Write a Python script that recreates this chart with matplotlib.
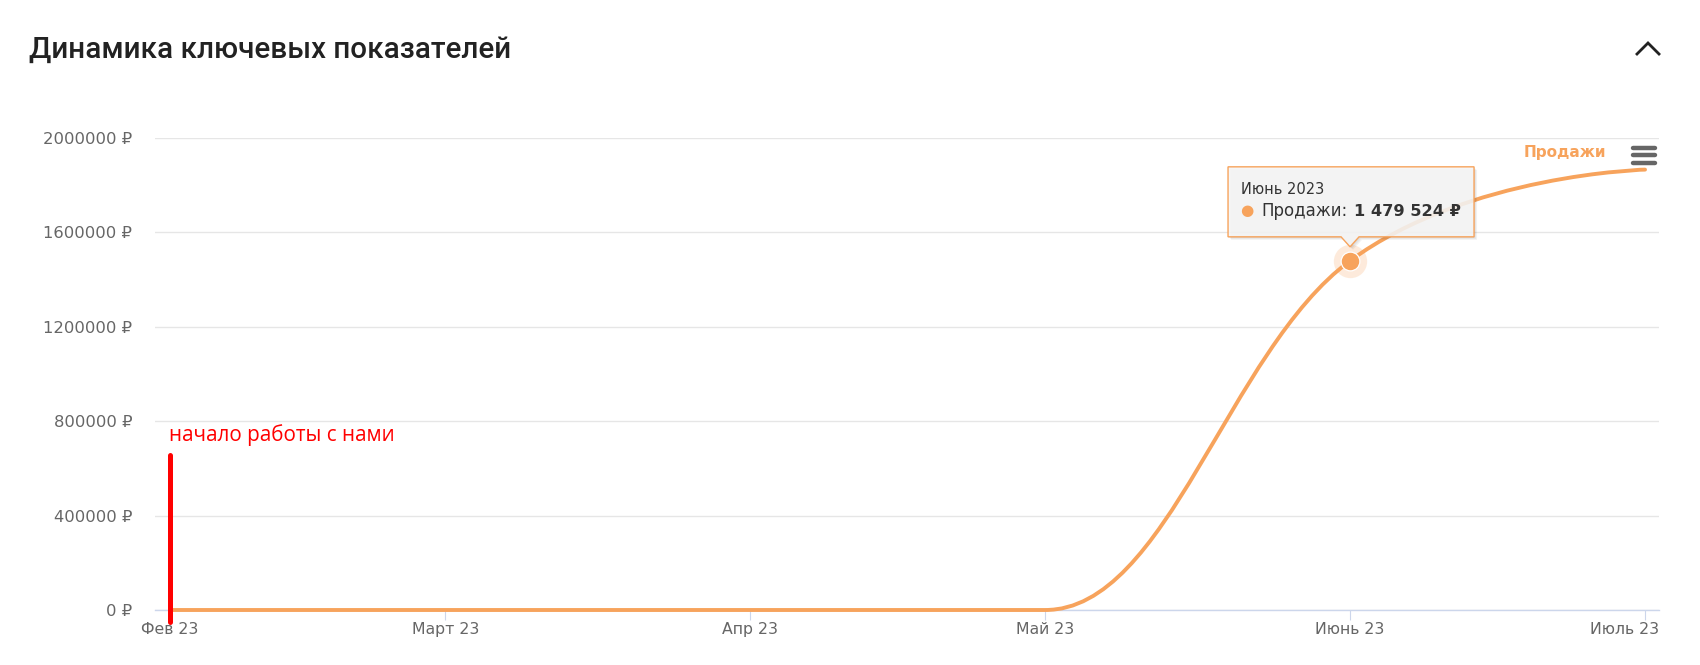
import datetime as dt

import matplotlib
matplotlib.use("Agg")
import matplotlib.pyplot as plt
import matplotlib.dates as mdates
from matplotlib.path import Path
from matplotlib.patches import PathPatch, Polygon
from matplotlib.lines import Line2D
from matplotlib.transforms import IdentityTransform, ScaledTranslation

# data
months = ["2023-02-01", "2023-03-01", "2023-04-01", "2023-05-01", "2023-06-01", "2023-07-01"]
sales = [0, 0, 0, 0, 1479524, 1866000]
month_labels = ["Фев 23", "Март 23", "Апр 23", "Май 23", "Июнь 23", "Июль 23"]
y_ticks = [0, 400000, 800000, 1200000, 1600000, 2000000]
series_name = "Продажи"
tooltip_index = 4
tooltip_header = "Июнь 2023"
start_index = 0
start_range = [-50000, 656000]
start_label = "начало работы с нами"
title = "Динамика ключевых показателей"

ORANGE = "#f7a35c"
W, H = 1700, 665


def fx(px):
    return px / W


def fy(py):
    return 1 - py / H


def spline_path(xs, ys):
    # highcharts style spline (smoothing 1.5)
    n = len(xs)
    left = [None] * n
    right = [None] * n
    for i in range(1, n - 1):
        x, y = xs[i], ys[i]
        lx, ly = xs[i - 1], ys[i - 1]
        nx, ny = xs[i + 1], ys[i + 1]
        lcx, lcy = (1.5 * x + lx) / 2.5, (1.5 * y + ly) / 2.5
        rcx, rcy = (1.5 * x + nx) / 2.5, (1.5 * y + ny) / 2.5
        if rcx != lcx:
            corr = (rcy - lcy) * (rcx - x) / (rcx - lcx) + y - rcy
            lcy += corr
            rcy += corr
        if lcy > ly and lcy > y:
            lcy = max(ly, y)
            rcy = 2 * y - lcy
        elif lcy < ly and lcy < y:
            lcy = min(ly, y)
            rcy = 2 * y - lcy
        if rcy > ny and rcy > y:
            rcy = max(ny, y)
            lcy = 2 * y - rcy
        elif rcy < ny and rcy < y:
            rcy = min(ny, y)
            lcy = 2 * y - rcy
        left[i] = (lcx, lcy)
        right[i] = (rcx, rcy)
    verts = [(xs[0], ys[0])]
    codes = [Path.MOVETO]
    for i in range(1, n):
        c1 = right[i - 1] or (xs[i - 1], ys[i - 1])
        c2 = left[i] or (xs[i], ys[i])
        verts += [c1, c2, (xs[i], ys[i])]
        codes += [Path.CURVE4] * 3
    return Path(verts, codes)


xs = [mdates.date2num(dt.date.fromisoformat(m)) for m in months]

fig = plt.figure(figsize=(W / 100, H / 100), dpi=100)
ax = fig.add_axes([fx(155), fy(610), fx(1659) - fx(155), fy(138) - fy(610)])

# axes style
for s in ["top", "right", "left"]:
    ax.spines[s].set_visible(False)
ax.spines["bottom"].set_color("#ccd6eb")
ax.spines["bottom"].set_linewidth(1.0)
ax.set_ylim(0, 2000000)
ax.set_xlim(xs[0] - 1.53, xs[-1] + 1.42)
ax.set_yticks(y_ticks)
ax.set_yticklabels([f"{v} ₽" for v in y_ticks])
ax.set_xticks(xs)
ax.set_xticklabels(month_labels)
ax.tick_params(axis="y", length=0, pad=16.5, labelsize=11.8, labelcolor="#666666")
ax.tick_params(axis="x", length=7.2, width=0.8, color="#ccd6eb", pad=1.5,
               labelsize=11.3, labelcolor="#666666")
# last label kept inside the chart like highcharts does
last = ax.get_xticklabels()[-1]
last.set_horizontalalignment("right")
last.set_transform(last.get_transform() + ScaledTranslation(14 / 100, 0, fig.dpi_scale_trans))
ax.grid(axis="y", color="#e6e6e6", linewidth=1.0)
ax.set_axisbelow(True)

# series line
path = spline_path(xs, sales)
ax.add_patch(PathPatch(path, facecolor="none", edgecolor=ORANGE, lw=2.8,
                       capstyle="round", zorder=3, clip_on=False))

# hovered point with halo
ax.plot(xs[tooltip_index], sales[tooltip_index], "o", ms=24, color=ORANGE,
        alpha=0.22, mew=0, zorder=4)
ax.plot(xs[tooltip_index], sales[tooltip_index], "o", ms=13.5, color=ORANGE,
        mec="white", mew=0.9, zorder=5)

# start marker
ax.plot([xs[start_index]] * 2, start_range, color="#ff0000", lw=3.6,
        solid_capstyle="round", zorder=6, clip_on=False)
ax.annotate(start_label, (xs[start_index], start_range[1]), xytext=(-1, 14),
            textcoords="offset pixels", color="#ff0000", fontsize=14.9,
            family="Open Sans", va="baseline", ha="left")

# title and icons
fig.text(fx(29), fy(58), title, fontsize=21.3, family="Roboto", fontweight="medium",
         color="#222222", va="baseline", ha="left")
fig.add_artist(Line2D([fx(1637), fx(1648), fx(1659)], [fy(54), fy(43), fy(54)],
                      color="#222222", lw=2.0, solid_joinstyle="miter"))
for yy in [147.5, 155, 162.5]:
    fig.add_artist(Line2D([fx(1633), fx(1655)], [fy(yy), fy(yy)], color="#666666",
                          lw=3.2, solid_capstyle="round"))
fig.text(fx(1606), fy(152.5), series_name, fontsize=11, fontweight="bold",
         color=ORANGE, ha="right", va="center", family="DejaVu Sans")

# tooltip
fig.canvas.draw()
px, py = ax.transData.transform((xs[tooltip_index], sales[tooltip_index]))
L, R, B, T = px - 122, px + 124, py + 24, py + 94
outline = [(L, B), (px - 9, B), (px, py + 14), (px + 9, B), (R, B), (R, T), (L, T)]
idt = IdentityTransform()
for k in (1, 2, 3):
    fig.add_artist(Polygon([(a + k, b - k) for a, b in outline], closed=True,
                           facecolor="black", edgecolor="none", alpha=0.05,
                           transform=idt, zorder=7))
fig.add_artist(Polygon(outline, closed=True, facecolor=(0.97, 0.97, 0.97, 0.88),
                       edgecolor=ORANGE, lw=1.0, transform=idt, zorder=8))
fig.text(px - 109, py + 67, tooltip_header, fontsize=10.5, color="#333333",
         transform=idt, va="baseline", ha="left", zorder=9)
fig.text(px - 103, py + 50, "●", fontsize=11, color=ORANGE, transform=idt,
         va="center", ha="center", zorder=9)
lbl = fig.text(px - 89, py + 45, series_name + ":", fontsize=12, color="#333333",
               transform=idt, va="baseline", ha="left", zorder=9)
x_end = lbl.get_window_extent(fig.canvas.get_renderer()).x1
fig.text(x_end + 7, py + 45, f"{sales[tooltip_index]:,} ₽".replace(",", " "),
         fontsize=11.7, fontweight="bold", color="#333333", transform=idt,
         va="baseline", ha="left", zorder=9)

fig.savefig("out.png", dpi=100)
